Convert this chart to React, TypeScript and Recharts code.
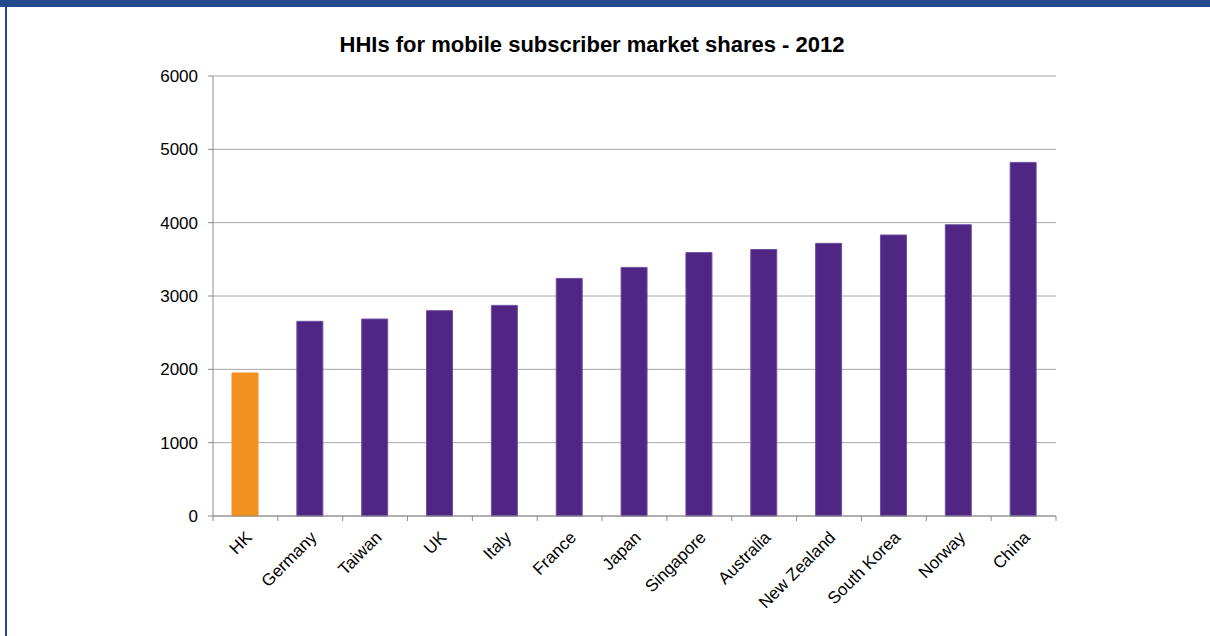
import { BarChart, Bar, XAxis, YAxis, CartesianGrid, Cell } from "recharts";

const countries = [
  "HK", "Germany", "Taiwan", "UK", "Italy", "France", "Japan",
  "Singapore", "Australia", "New Zealand", "South Korea", "Norway", "China",
];
const hhi = [1950, 2655, 2686, 2800, 2872, 3240, 3390, 3592, 3634, 3718, 3832, 3972, 4822];
const yTicks = [0, 1000, 2000, 3000, 4000, 5000, 6000];

const data = countries.map((name, i) => ({ name, value: hhi[i] }));

const FONT = "'Liberation Sans', Arial, sans-serif";
const PURPLE = "#502684";
const ORANGE = "#f39120";
const BORDER = "#234a8f";
const AXIS = "#8c8c8c";

const MARGIN = { top: 76, right: 154, bottom: 0, left: 153 };
const Y_W = 60;
const PLOT_W = 1210 - MARGIN.left - MARGIN.right - Y_W;
const STEP = PLOT_W / countries.length;

// rotated category labels + tick marks on category boundaries (Excel style)
const CountryTick = ({ x, y, payload, index }: any) => {
  const axisY = MARGIN.top + (636 - MARGIN.top - 120);
  const left = x - STEP / 2;
  return (
    <g>
      <line x1={left} x2={left} y1={axisY} y2={axisY + 5} stroke={AXIS} />
      {index === countries.length - 1 && (
        <line x1={x + STEP / 2} x2={x + STEP / 2} y1={axisY} y2={axisY + 5} stroke={AXIS} />
      )}
      <text
        x={x - 1}
        y={y + 6}
        transform={`rotate(-45, ${x - 1}, ${y + 6})`}
        textAnchor="end"
        dominantBaseline="hanging"
        fontSize={17}
        fontFamily={FONT}
        fill="#000"
      >
        {payload.value}
      </text>
    </g>
  );
};

export default function App() {
  return (
    <div
      style={{
        position: "absolute",
        left: 0,
        top: 0,
        width: 1210,
        height: 636,
        background: "#fff",
        overflow: "hidden",
      }}
    >
      <div style={{ position: "absolute", left: 0, top: 0, width: 1210, height: 7, background: BORDER }} />
      <div style={{ position: "absolute", left: 5, top: 0, width: 2, height: 636, background: BORDER }} />
      <div
        style={{
          position: "absolute",
          left: 292,
          top: 32,
          width: 600,
          textAlign: "center",
          whiteSpace: "nowrap",
          fontFamily: FONT,
          fontWeight: "bold",
          fontSize: 22,
          color: "#000",
        }}
      >
        HHIs for mobile subscriber market shares - 2012
      </div>
      <div style={{ position: "absolute", left: 0, top: 0 }}>
        <BarChart
          width={1210}
          height={636}
          data={data}
          margin={MARGIN}
          barCategoryGap="30%"
        >
          <CartesianGrid vertical={false} stroke="#a6a6a6" />
          <XAxis
            dataKey="name"
            interval={0}
            tickLine={false}
            axisLine={{ stroke: AXIS }}
            tick={<CountryTick />}
            height={120}
          />
          <YAxis
            domain={[0, 6000]}
            ticks={yTicks}
            width={Y_W}
            tickSize={5}
            tickMargin={10}
            tickLine={{ stroke: AXIS }}
            axisLine={{ stroke: AXIS }}
            tick={{ fontSize: 17, fontFamily: FONT, fill: "#000" }}
          />
          <Bar dataKey="value" isAnimationActive={false} strokeWidth={1} barSize={26}>
            {data.map((d, i) => (
              <Cell key={d.name} fill={i === 0 ? ORANGE : PURPLE} stroke={i === 0 ? ORANGE : "#6e52a0"} />
            ))}
          </Bar>
        </BarChart>
      </div>
    </div>
  );
}
